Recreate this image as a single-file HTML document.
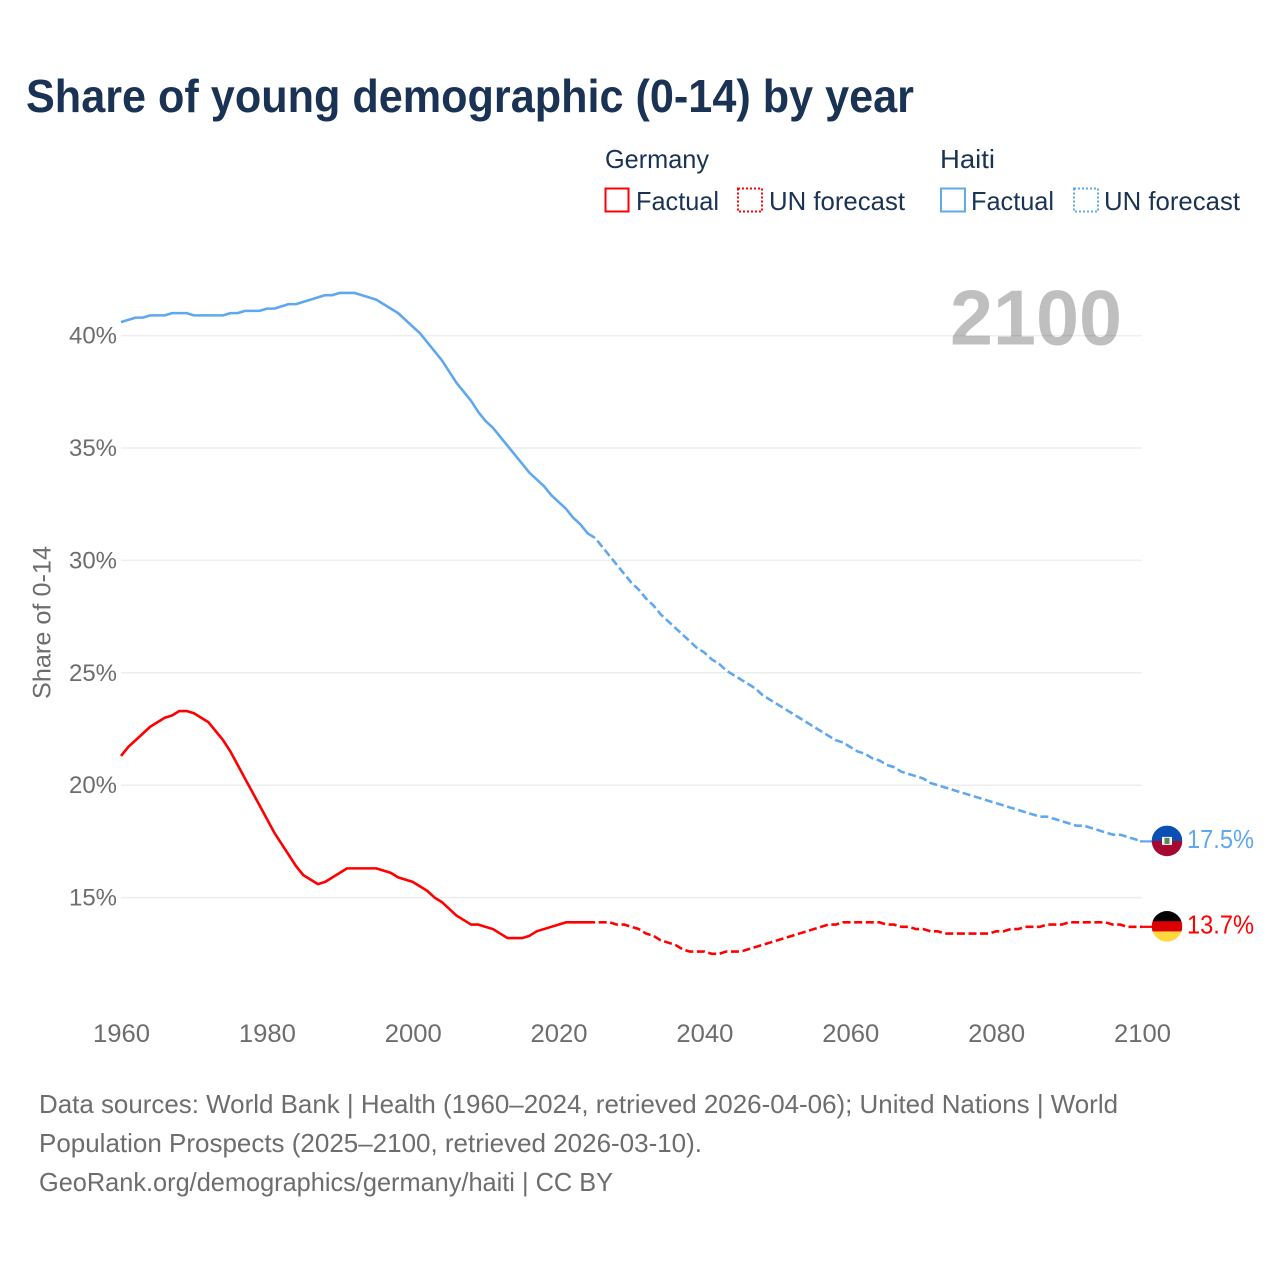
<!DOCTYPE html>
<html lang="en">
<head>
<meta charset="utf-8">
<title>Share of young demographic (0-14) by year</title>
<style>
html,body{margin:0;padding:0;background:#fff;width:1280px;height:1280px;overflow:hidden}
svg{display:block}
text{font-family:"Liberation Sans",sans-serif}
</style>
</head>
<body>
<svg id="chart" xmlns="http://www.w3.org/2000/svg" width="1280" height="1280" viewBox="0 0 1280 1280">
<rect width="1280" height="1280" fill="#fff"/>
<text x="26" y="112" font-size="46" font-weight="700" fill="#1a3354" textLength="888" lengthAdjust="spacingAndGlyphs">Share of young demographic (0-14) by year</text>

<g>
<text x="605" y="168" font-size="26" fill="#1a3354" textLength="104" lengthAdjust="spacingAndGlyphs">Germany</text>
<text x="940" y="168" font-size="26" fill="#1a3354" textLength="55" lengthAdjust="spacingAndGlyphs">Haiti</text>
<rect x="605.5" y="188.5" width="23" height="23" fill="none" stroke="#ff0000" stroke-width="2"/>
<text x="636" y="210" font-size="26" fill="#1a3354" textLength="83" lengthAdjust="spacingAndGlyphs">Factual</text>
<rect x="738" y="188.5" width="24" height="23" fill="none" stroke="#ff0000" stroke-width="2" stroke-dasharray="2 2"/>
<text x="769" y="210" font-size="26" fill="#1a3354" textLength="136" lengthAdjust="spacingAndGlyphs">UN forecast</text>
<rect x="941" y="188.5" width="24" height="23" fill="none" stroke="#5fa8ee" stroke-width="2"/>
<text x="971" y="210" font-size="26" fill="#1a3354" textLength="83" lengthAdjust="spacingAndGlyphs">Factual</text>
<rect x="1074" y="188.5" width="24" height="23" fill="none" stroke="#5fa8ee" stroke-width="2" stroke-dasharray="2 2"/>
<text x="1104" y="210" font-size="26" fill="#1a3354" textLength="136" lengthAdjust="spacingAndGlyphs">UN forecast</text>
</g>

<g id="grid"></g>
<text x="950" y="344.5" font-size="78" font-weight="700" fill="#000" fill-opacity="0.25" textLength="172" lengthAdjust="spacingAndGlyphs">2100</text>
<g id="yTicks"></g>
<g id="xTicks"></g>
<text transform="translate(50.5 699) rotate(-90)" x="0" y="0" font-size="25" fill="#6d6d6d" textLength="153" lengthAdjust="spacingAndGlyphs">Share of 0-14</text>
<g id="series"></g>
<g id="endpoints"></g>

<g font-size="26" fill="#6d6d6d">
<text x="39" y="1113" textLength="1079" lengthAdjust="spacingAndGlyphs">Data sources: World Bank | Health (1960–2024, retrieved 2026-04-06); United Nations | World</text>
<text x="39" y="1152" textLength="663" lengthAdjust="spacingAndGlyphs">Population Prospects (2025–2100, retrieved 2026-03-10).</text>
<text x="39" y="1191" textLength="574" lengthAdjust="spacingAndGlyphs">GeoRank.org/demographics/germany/haiti | CC BY</text>
</g>
</svg>
<script>
const yTickValues = [15, 20, 25, 30, 35, 40];
const xTickYears = [1960, 1980, 2000, 2020, 2040, 2060, 2080, 2100];
const firstYear = 1960;
const lastFactualYear = 2025;

const germanyValues = [
21.3,21.7,22.0,22.3,22.6,22.8,23.0,23.1,23.3,23.3,
23.2,23.0,22.8,22.4,22.0,21.5,20.9,20.3,19.7,19.1,
18.5,17.9,17.4,16.9,16.4,16.0,15.8,15.6,15.7,15.9,
16.1,16.3,16.3,16.3,16.3,16.3,16.2,16.1,15.9,15.8,
15.7,15.5,15.3,15.0,14.8,14.5,14.2,14.0,13.8,13.8,
13.7,13.6,13.4,13.2,13.2,13.2,13.3,13.5,13.6,13.7,
13.8,13.9,13.9,13.9,13.9,13.9,13.9,13.9,13.8,13.8,
13.7,13.6,13.4,13.3,13.1,13.0,12.9,12.7,12.6,12.6,
12.6,12.5,12.5,12.6,12.6,12.6,12.7,12.8,12.9,13.0,
13.1,13.2,13.3,13.4,13.5,13.6,13.7,13.8,13.8,13.9,
13.9,13.9,13.9,13.9,13.9,13.8,13.8,13.7,13.7,13.6,
13.6,13.5,13.5,13.4,13.4,13.4,13.4,13.4,13.4,13.4,
13.5,13.5,13.6,13.6,13.7,13.7,13.7,13.8,13.8,13.8,
13.9,13.9,13.9,13.9,13.9,13.9,13.8,13.8,13.7,13.7,13.7];

const haitiValues = [
40.6,40.7,40.8,40.8,40.9,40.9,40.9,41.0,41.0,41.0,
40.9,40.9,40.9,40.9,40.9,41.0,41.0,41.1,41.1,41.1,
41.2,41.2,41.3,41.4,41.4,41.5,41.6,41.7,41.8,41.8,
41.9,41.9,41.9,41.8,41.7,41.6,41.4,41.2,41.0,40.7,
40.4,40.1,39.7,39.3,38.9,38.4,37.9,37.5,37.1,36.6,
36.2,35.9,35.5,35.1,34.7,34.3,33.9,33.6,33.3,32.9,
32.6,32.3,31.9,31.6,31.2,31.0,30.6,30.2,29.8,29.4,
29.0,28.7,28.3,28.0,27.6,27.3,27.0,26.7,26.4,26.1,
25.9,25.6,25.4,25.1,24.9,24.7,24.5,24.3,24.0,23.8,
23.6,23.4,23.2,23.0,22.8,22.6,22.4,22.2,22.0,21.9,
21.7,21.5,21.4,21.2,21.1,20.9,20.8,20.6,20.5,20.4,
20.3,20.1,20.0,19.9,19.8,19.7,19.6,19.5,19.4,19.3,
19.2,19.1,19.0,18.9,18.8,18.7,18.6,18.6,18.5,18.4,
18.3,18.2,18.2,18.1,18.0,17.9,17.8,17.8,17.7,17.6,17.5];

const NS = 'http://www.w3.org/2000/svg';
const RED = '#ff0000';
const BLUE = '#5fa8ee';

function xScale(year) { return 121 + (year - 1960) * (1142 - 121) / 140; }
function yScale(value) { return 897.6 + (value - 15) * (335.6 - 897.6) / 25; }

function make(tag, parent, attrs) {
  const el = document.createElementNS(NS, tag);
  for (const k in attrs) el.setAttribute(k, attrs[k]);
  parent.appendChild(el);
  return el;
}

const grid = document.getElementById('grid');
const yTicks = document.getElementById('yTicks');
yTickValues.forEach(function (v) {
  const line = make('line', grid, {x1: 121, x2: 1142, y1: yScale(v), y2: yScale(v), stroke: '#eeeeee', 'stroke-width': 1.5});
  
  
  const t = make('text', yTicks, {x: 69, y: yScale(v) + 8, 'font-size': 24, fill: '#6d6d6d', textLength: 48, lengthAdjust: 'spacingAndGlyphs'});
  
  
  t.textContent = v + '%';
});

const xTicks = document.getElementById('xTicks');
xTickYears.forEach(function (yr) {
  const t = make('text', xTicks, {x: xScale(yr) - 28, y: 1042, 'font-size': 25, fill: '#6d6d6d', textLength: 57, lengthAdjust: 'spacingAndGlyphs'});
  
  
  t.textContent = String(yr);
});

function pathFor(values, fromYear, toYear) {
  const pts = [];
  for (let yr = fromYear; yr <= toYear; yr++) {
    const v = values[yr - firstYear];
    pts.push(xScale(yr).toFixed(2) + ',' + yScale(v).toFixed(2));
  }
  return 'M' + pts.join('L');
}

const seriesGroup = document.getElementById('series');
function drawSeries(name, values, color) {
  const end = firstYear + values.length - 1;
  const solid = make('path', seriesGroup, {d: pathFor(values, firstYear, lastFactualYear), fill: 'none', stroke: color, 'stroke-width': 2.6, 'stroke-linejoin': 'round'});
  
  
  const dashed = make('path', seriesGroup, {d: pathFor(values, lastFactualYear, end), fill: 'none', stroke: color, 'stroke-width': 2.6, 'stroke-dasharray': '8 3.6', 'stroke-dashoffset': 8});
  
  
  const last = values[values.length - 1];
  const connector = make('line', seriesGroup, {x1: xScale(end) - 2, x2: 1152, y1: yScale(last), y2: yScale(last), stroke: color, 'stroke-width': 2.2});
  
  
}
drawSeries('haiti', haitiValues, BLUE);
drawSeries('germany', germanyValues, RED);

const endpoints = document.getElementById('endpoints');
let clipCount = 0;
function drawEnd(name, values, color, bands, emblem) {
  const last = values[values.length - 1];
  const cy = yScale(last) - 0.5;
  const cx = 1167;
  const r = 15.3;
  const id = 'clip' + (clipCount++);
  const defs = make('defs', endpoints, {});
  const cp = make('clipPath', defs, {id: id});
  make('circle', cp, {cx: cx, cy: cy, r: r});
  const flag = make('g', endpoints, {'clip-path': 'url(#' + id + ')'});
  
  
  const h = 2 * r / bands.length;
  bands.forEach(function (c, i) {
    make('rect', flag, {x: cx - r, y: cy - r + i * h, width: 2 * r, height: h + 0.3, fill: c});
  });
  if (emblem) {
    make('rect', flag, {x: cx - 5, y: cy - 4, width: 10, height: 8, fill: '#f4f4f4'});
    make('rect', flag, {x: cx - 2.5, y: cy - 3, width: 5, height: 6, fill: '#4f8a5a'});
  }
  const t = make('text', endpoints, {x: 1187, y: cy + 7, 'font-size': 26, fill: color, textLength: 67, lengthAdjust: 'spacingAndGlyphs'});
  
  
  t.textContent = last.toFixed(1) + '%';
}
drawEnd('haiti', haitiValues, BLUE, ['#0a50b4', '#a6092f'], true);
drawEnd('germany', germanyValues, RED, ['#000000', '#dd0000', '#ffd83d'], false);
</script>
</body>
</html>
